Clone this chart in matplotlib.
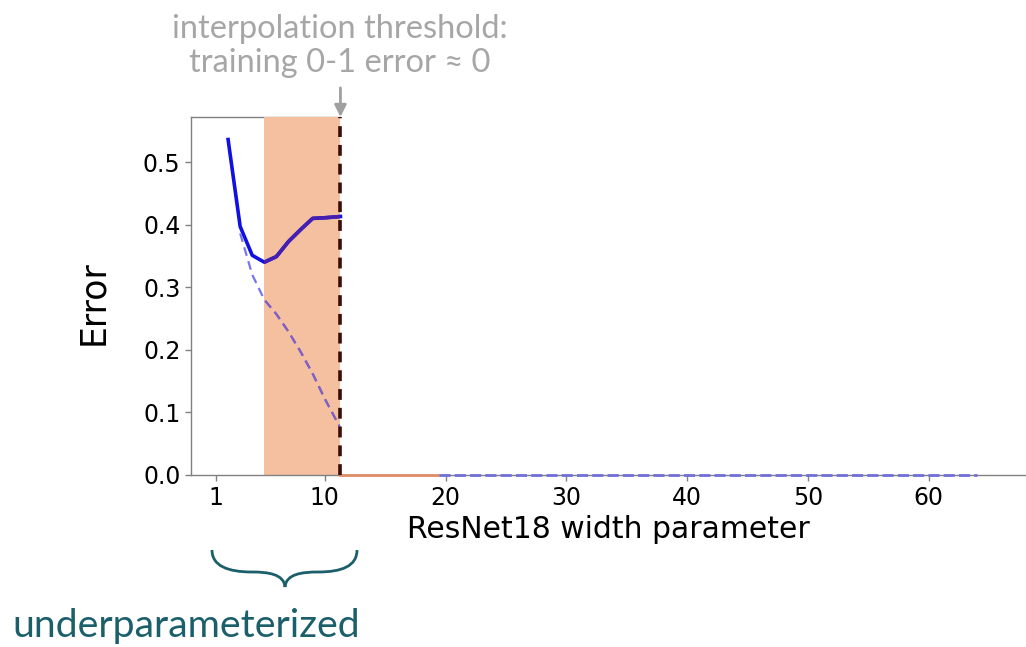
import matplotlib
matplotlib.use("Agg")
import matplotlib.pyplot as plt
from matplotlib.path import Path
from matplotlib.patches import PathPatch, Rectangle

plt.rcParams["font.family"] = ["DejaVu Sans"]

# widths and errors
widths = [2, 3, 4, 5, 6, 7, 8, 9, 10, 11.3]
test_err = [0.536, 0.397, 0.351, 0.340, 0.349, 0.373, 0.392, 0.410, 0.411, 0.413]
train_widths = [3, 4, 5, 6, 7, 8, 9, 10, 11.3]
train_err = [0.386, 0.320, 0.280, 0.257, 0.229, 0.197, 0.162, 0.122, 0.075]
zero_widths = [19.5, 64]
zero_err = [0.0, 0.0]
orange_widths = [11.3, 19.4]

threshold = 11.3
shade_lo, shade_hi = 5.0, 11.3
xticks = [1, 10, 20, 30, 40, 50, 60]
yticks = [0.0, 0.1, 0.2, 0.3, 0.4, 0.5]
xmin, xmax = -1.07, 68.05
ymax = 0.572

W, H = 1026, 647
fig = plt.figure(figsize=(W / 100, H / 100), dpi=100)
ax = fig.add_axes([191 / W, 1 - 475 / H, 1 - 191 / W, (475 - 117) / H])
ax.set_xlim(xmin, xmax)
ax.set_ylim(0, ymax)

ax.axvspan(shade_lo, shade_hi, color="#f5c0a0", lw=0, zorder=1)
clip = Rectangle((shade_lo, 0), shade_hi - shade_lo, 1, transform=ax.transData)

# test error (solid) and train error (dashed)
ax.plot(widths, test_err, color="#1010e0", lw=2.6, zorder=3, solid_joinstyle="round")
l2, = ax.plot(widths, test_err, color="#4520b0", lw=2.6, zorder=4)
l2.set_clip_path(clip)
ax.plot(train_widths, train_err, color="#7676ee", lw=1.6, ls=(0, (4, 2.5)), zorder=3)
l4, = ax.plot(train_widths, train_err, color="#8460bc", lw=1.6, ls=(0, (4, 2.5)), zorder=4)
l4.set_clip_path(clip)

ax.plot(orange_widths, [0, 0], color="#e08c68", lw=2, zorder=3, clip_on=False)
ax.plot(zero_widths, zero_err, color="#7070dc", lw=2, ls=(0, (4, 1.5)), zorder=3, clip_on=False)

ax.axvline(threshold, color="#3a0e04", lw=2.6, ls=(0, (3, 2.2)), zorder=5)

# top spine only up to the threshold
ax.plot([xmin, threshold], [ymax, ymax], color="#808080", lw=1, zorder=0, clip_on=False)

for s in ["top", "right"]:
    ax.spines[s].set_visible(False)
for s in ["left", "bottom"]:
    ax.spines[s].set_color("#808080")
    ax.spines[s].set_linewidth(1)

ax.set_xticks(xticks)
ax.set_xticklabels([str(t) for t in xticks])
ax.set_yticks(yticks)
ax.set_yticklabels([f"{t:.1f}" for t in yticks])
ax.tick_params(labelsize=17, colors="#808080", labelcolor="black", length=4, width=1)
ax.tick_params(axis="x", pad=4)
ax.set_ylabel("Error", fontsize=25)
ax.yaxis.set_label_coords((93 - 191) / (W - 191), (475 - 303) / (475 - 117))
ax.set_xlabel("ResNet18 width parameter", fontsize=21.5)
ax.xaxis.set_label_coords((608.5 - 191) / (W - 191), -(530 - 475) / (475 - 117))
ax.xaxis.label.set_va("center")
ax.yaxis.label.set_va("center")

# annotation above the threshold
fig.text(340 / W, 1 - 46 / H, "interpolation threshold:\ntraining 0-1 error \u2248 0",
         ha="center", va="center", fontsize=23.5, color="#a6a6a6",
         family=["Lato", "DejaVu Sans"], linespacing=1.15)
ax.annotate("", xy=(threshold, ymax), xycoords="data",
            xytext=(0, 21), textcoords="offset points",
            arrowprops=dict(arrowstyle="-|>,head_length=0.7,head_width=0.35",
                            color="#a0a0a0", lw=2, shrinkA=0, shrinkB=0),
            annotation_clip=False)


# brace under the underparameterized range
def fp(px, py):
    return (px / W, 1 - py / H)


verts = [fp(212, 550), fp(212, 566), fp(228, 572), fp(252, 572),
         fp(268, 572), fp(284, 574), fp(285, 587),
         fp(286, 574), fp(302, 572), fp(318, 572),
         fp(342, 572), fp(357, 566), fp(357, 550)]
codes = [Path.MOVETO] + [Path.CURVE4] * 12
fig.patches.append(PathPatch(Path(verts, codes), transform=fig.transFigure,
                             fill=False, ec="#1b5f6b", lw=2))

fig.text(12 / W, 1 - 637 / H, "underparameterized", ha="left", va="baseline",
         fontsize=28.3, color="#1b5f6b", family=["Lato", "DejaVu Sans"])

fig.savefig("out.png", dpi=100)
